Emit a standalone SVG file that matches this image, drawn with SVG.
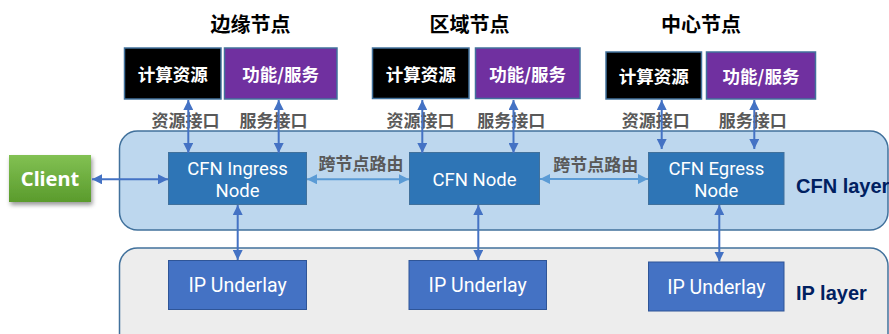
<svg xmlns="http://www.w3.org/2000/svg" width="889" height="334" viewBox="0 0 889 334">
<defs>
<style>
.cjk{font-family:"Noto Sans CJK SC","Microsoft YaHei",sans-serif;font-weight:bold;text-anchor:middle}
.title{font-size:20px;fill:#000}
.boxt{font-size:17.5px;fill:#fff}
.lbl{font-size:17px;fill:#595959}
.lat{font-family:Roboto,"Noto Sans",sans-serif;fill:#fff;text-anchor:middle;font-size:18.5px}
.ipt{font-family:Roboto,"Noto Sans",sans-serif;fill:#fff;text-anchor:middle;font-size:19.5px}
.layer{font-family:"Liberation Sans",Arial,sans-serif;font-weight:bold;font-size:20px;fill:#002060}
.res{fill:#000;stroke:#41719c;stroke-width:1.5}
.svc{fill:#7030a0;stroke:#41719c;stroke-width:1.5}
.cfn{fill:#2e75b6;stroke:#41719c;stroke-width:1}
.ip{fill:#4472c4;stroke:#2f5597;stroke-width:1}
.conn{stroke:#4472c4;stroke-width:2;fill:none;marker-start:url(#ah);marker-end:url(#ah)}
.conn2{stroke:#5b9bd5;stroke-width:2;fill:none;marker-start:url(#ah2);marker-end:url(#ah2)}
</style>
<marker id="ah" viewBox="0 0 10 10" refX="10" refY="5" markerWidth="10" markerHeight="10" markerUnits="userSpaceOnUse" orient="auto-start-reverse"><path d="M0,0 L10,5 L0,10 z" fill="#4472c4"/></marker>
<marker id="ah2" viewBox="0 0 10 10" refX="10" refY="5" markerWidth="10" markerHeight="10" markerUnits="userSpaceOnUse" orient="auto-start-reverse"><path d="M0,0 L10,5 L0,10 z" fill="#5b9bd5"/></marker>
<linearGradient id="green" x1="0" y1="0" x2="0" y2="1"><stop offset="0" stop-color="#82c153"/><stop offset="1" stop-color="#5a9b2c"/></linearGradient>
<filter id="sh" x="-20%" y="-20%" width="150%" height="160%"><feDropShadow dx="1.5" dy="3" stdDeviation="2" flood-color="#000" flood-opacity="0.4"/></filter>
</defs>
<rect width="889" height="334" fill="#fff"/>

<g id="cfn-layer">
<rect x="119.5" y="131" width="768.5" height="99" rx="18" fill="#bdd7ee" stroke="#41719c" stroke-width="1.5"/>
<text class="layer" x="796" y="193">CFN layer</text>
</g>
<g id="ip-layer">
<rect x="119.5" y="248" width="768.5" height="110" rx="18" fill="#ededed" stroke="#41719c" stroke-width="1.5"/>
<text class="layer" x="796" y="300">IP layer</text>
</g>

<g id="titles">
<text class="cjk title" x="250.5" y="32">边缘节点</text>
<text class="cjk title" x="469.5" y="32">区域节点</text>
<text class="cjk title" x="701" y="32">中心节点</text>
</g>

<g id="edge-res"><rect class="res" x="124.5" y="48" width="96.5" height="51"/><text class="cjk boxt" x="172.7" y="80.5">计算资源</text></g>
<g id="edge-svc"><rect class="svc" x="224.5" y="48" width="112.5" height="51"/><text class="cjk boxt" x="280.7" y="80.5">功能/服务</text></g>
<g id="region-res"><rect class="res" x="372.5" y="48" width="96.5" height="50.5"/><text class="cjk boxt" x="420.7" y="80.5">计算资源</text></g>
<g id="region-svc"><rect class="svc" x="475.5" y="48" width="104.5" height="50.5"/><text class="cjk boxt" x="527.7" y="80.5">功能/服务</text></g>
<g id="center-res"><rect class="res" x="606" y="52" width="95.5" height="47"/><text class="cjk boxt" x="653.7" y="82.5">计算资源</text></g>
<g id="center-svc"><rect class="svc" x="706.5" y="52" width="109" height="47"/><text class="cjk boxt" x="761" y="82.5">功能/服务</text></g>

<g id="client"><rect x="9" y="155" width="82" height="47" fill="url(#green)" filter="url(#sh)"/><text x="50" y="185.5" font-family="'Noto Sans','Open Sans',sans-serif" font-weight="bold" font-size="20" fill="#fff" text-anchor="middle">Client</text></g>

<g id="cfn-ingress"><rect class="cfn" x="168.5" y="152.5" width="138" height="52"/><text class="lat"><tspan x="237.5" y="174.5">CFN Ingress</tspan><tspan x="237.5" y="196.5">Node</tspan></text></g>
<g id="cfn-node"><rect class="cfn" x="409.5" y="152.5" width="130" height="52"/><text class="lat" x="474.5" y="185.5">CFN Node</text></g>
<g id="cfn-egress"><rect class="cfn" x="648.5" y="152.5" width="135.5" height="52"/><text class="lat"><tspan x="716.3" y="174.5">CFN Egress</tspan><tspan x="716.3" y="196.5">Node</tspan></text></g>

<g id="ip1"><rect class="ip" x="168.5" y="260.5" width="138" height="49"/><text class="ipt" x="237.5" y="292">IP Underlay</text></g>
<g id="ip2"><rect class="ip" x="409" y="260.5" width="137.5" height="49"/><text class="ipt" x="477.7" y="292">IP Underlay</text></g>
<g id="ip3"><rect class="ip" x="648.5" y="262" width="135.5" height="49"/><text class="ipt" x="716.3" y="294">IP Underlay</text></g>

<g id="labels">
<text class="cjk lbl" x="185.5" y="127">资源接口</text>
<text class="cjk lbl" x="273.5" y="127">服务接口</text>
<text class="cjk lbl" x="420.5" y="127">资源接口</text>
<text class="cjk lbl" x="511.3" y="127">服务接口</text>
<text class="cjk lbl" x="655.8" y="127">资源接口</text>
<text class="cjk lbl" x="752.8" y="127">服务接口</text>
<text class="cjk lbl" x="361" y="170">跨节点路由</text>
<text class="cjk lbl" x="595.8" y="171">跨节点路由</text>
</g>

<g id="connectors">
<line class="conn" x1="188.3" y1="100" x2="188.3" y2="153"/>
<line class="conn" x1="278.7" y1="100" x2="278.7" y2="153"/>
<line class="conn" x1="422.3" y1="100" x2="422.3" y2="153"/>
<line class="conn" x1="513.5" y1="100" x2="513.5" y2="153"/>
<line class="conn" x1="661.7" y1="100" x2="661.7" y2="149"/>
<line class="conn" x1="754.3" y1="100" x2="754.3" y2="149"/>
<line class="conn" x1="92" y1="179.3" x2="168" y2="179.3"/>
<line class="conn2" x1="307" y1="179.3" x2="409" y2="179.3"/>
<line class="conn2" x1="540" y1="179" x2="648" y2="179"/>
<line class="conn" x1="237.7" y1="205" x2="237.7" y2="260"/>
<line class="conn" x1="478.3" y1="205" x2="478.3" y2="260"/>
<line class="conn" x1="719.3" y1="205" x2="719.3" y2="261.5"/>
</g>
</svg>
